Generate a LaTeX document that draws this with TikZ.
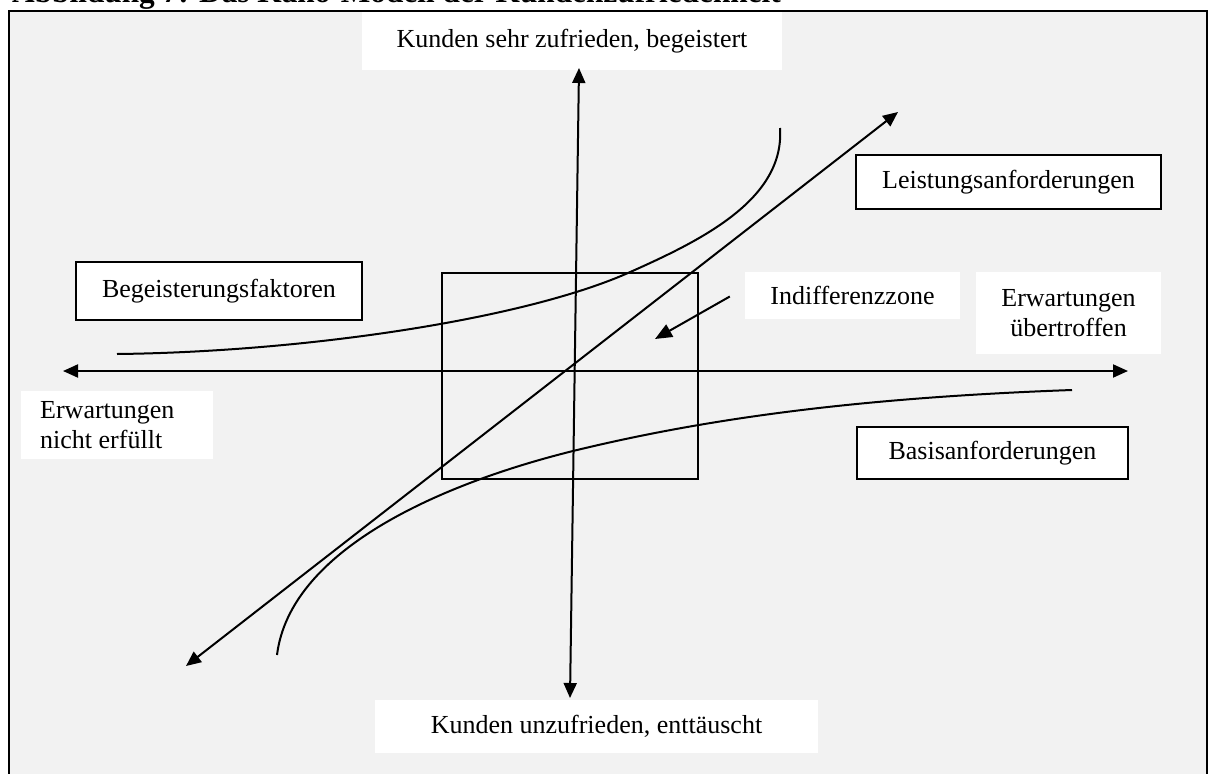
\documentclass[tikz,border=0pt]{standalone}
\usepackage{fontspec}
\setmainfont{Liberation Serif}
\usetikzlibrary{arrows.meta}

\definecolor{panelgray}{HTML}{F2F2F2}

\tikzset{
  bothways/.style={line width=2pt, {Triangle[length=15pt,width=13pt]}-{Triangle[length=15pt,width=13pt]}},
  curveline/.style={line width=2pt},
  labeltext/.style={font=\fontsize{26}{30.5}\selectfont, inner sep=0pt},
  whitebox/.style={fill=white, inner sep=0pt, labeltext},
  framedbox/.style={whitebox, draw=black, line width=1.5pt},
}

\begin{document}
\begin{tikzpicture}[x=1pt, y=-1pt]
\useasboundingbox (0,0) rectangle (1208,774);
\clip (0,0) rectangle (1208,774);

% heading, partly above the page edge
\node[anchor=base west, inner sep=0pt, font=\fontsize{31.3}{36}\selectfont\bfseries]
  (heading) at (12,2.5) {Abbildung 7: Das Kano-Modell der Kundenzufriedenheit};

% grey panel
\draw[line width=2pt, fill=panelgray] (9,11) rectangle (1206.5,800);

% axis labels
\node[whitebox, minimum width=420pt, minimum height=58pt] (top) at (572,41)
  {Kunden sehr zufrieden, begeistert};
\node[whitebox, minimum width=443pt, minimum height=53pt] (bottom) at (596.5,726.5)
  {Kunden unzufrieden, enttäuscht};
\node[whitebox, minimum width=185pt, minimum height=82pt, align=center] (right) at (1068.5,313)
  {Erwartungen\\übertroffen};
\node[fill=white, inner sep=0pt, minimum width=192pt, minimum height=68pt] (leftbox) at (117,425) {};
\node[labeltext, anchor=west, align=left] (left) at (40,425)
  {Erwartungen\\nicht erfüllt};

% category labels
\node[framedbox, minimum width=305pt, minimum height=54pt] (leistung) at (1008.5,182)
  {Leistungsanforderungen};
\node[framedbox, minimum width=286pt, minimum height=58pt] (begeist) at (219,291)
  {Begeisterungsfaktoren};
\node[framedbox, minimum width=271pt, minimum height=52pt] (basis) at (992.5,453)
  {Basisanforderungen};
\node[whitebox, minimum width=215pt, minimum height=47pt] (indiff) at (852.5,295.5)
  {Indifferenzzone};

% indifference zone
\draw[line width=2pt] (442,273) rectangle (698,479);

% axes
\coordinate (ytop) at (579,68);
\coordinate (ybot) at (570,698);
\coordinate (xleft) at (63,371);
\coordinate (xright) at (1128,371);
\draw[bothways] (ybot) -- (ytop);
\draw[bothways] (xleft) -- (xright);

% performance requirements: straight line
\coordinate (dlow) at (186,666);
\coordinate (dhigh) at (898,112);
\draw[bothways] (dlow) -- (dhigh);

% delighters
\coordinate (bstart) at (117,354);
\coordinate (bmid) at (628,273);
\coordinate (bend) at (780,128);
\draw[curveline] (bstart) .. controls (300,352) and (520,320.5) .. (bmid)
  .. controls (700,241) and (785,200) .. (bend);

% basic requirements
\coordinate (cstart) at (1072,390);
\coordinate (cmid) at (573,451);
\coordinate (cend) at (277,655);
\draw[curveline] (cstart) .. controls (850,398) and (700,420) .. (cmid)
  .. controls (440,484) and (290,550) .. (cend);

% pointer to the indifference zone
\coordinate (ptip) at (655,339);
\draw[line width=2pt, -{Triangle[length=17pt,width=14pt]}] (indiff.west) ++(-15,1) coordinate (pfrom) -- (ptip);
\end{tikzpicture}
\end{document}
